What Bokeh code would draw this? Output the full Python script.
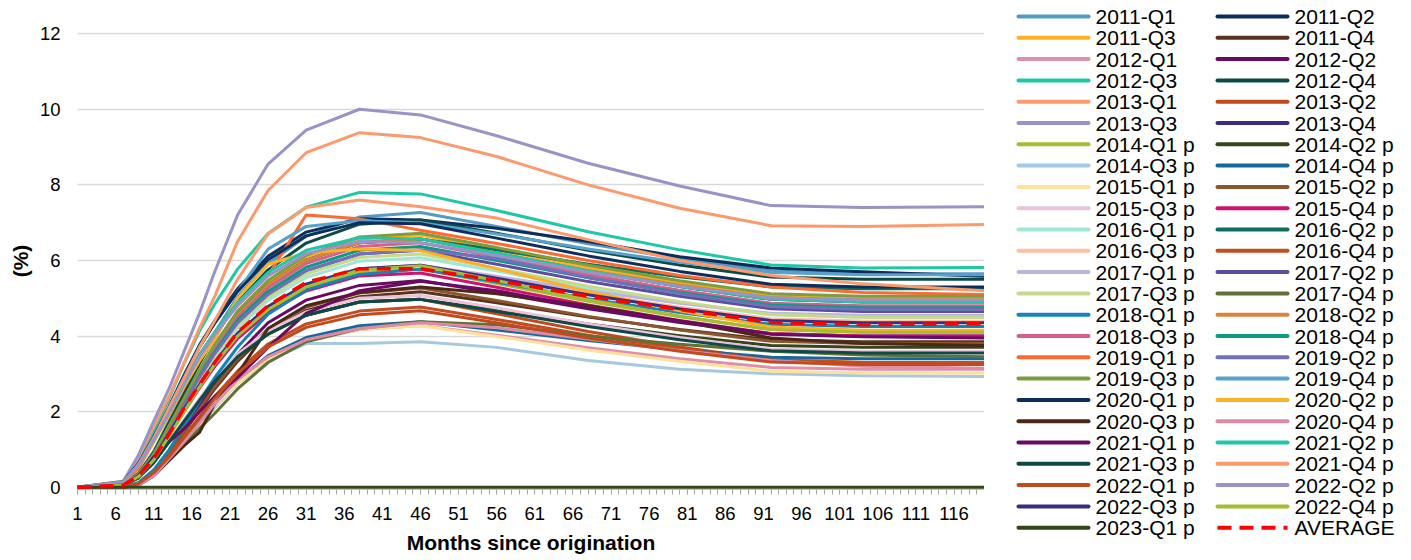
from bokeh.plotting import figure
from bokeh.models import FixedTicker, Range1d
from bokeh.layouts import row
from bokeh.core.properties import value
from bokeh.embed import file_html
from bokeh.resources import INLINE

months = [1, 7, 9, 11, 13, 15, 17, 19, 22, 26, 31, 38, 46, 56, 68, 80, 92, 104, 120]

labels = ["2011-Q1", "2011-Q2", "2011-Q3", "2011-Q4", "2012-Q1", "2012-Q2", "2012-Q3", "2012-Q4",
          "2013-Q1", "2013-Q2", "2013-Q3", "2013-Q4", "2014-Q1 p", "2014-Q2 p", "2014-Q3 p", "2014-Q4 p",
          "2015-Q1 p", "2015-Q2 p", "2015-Q3 p", "2015-Q4 p", "2016-Q1 p", "2016-Q2 p", "2016-Q3 p", "2016-Q4 p",
          "2017-Q1 p", "2017-Q2 p", "2017-Q3 p", "2017-Q4 p", "2018-Q1 p", "2018-Q2 p", "2018-Q3 p", "2018-Q4 p",
          "2019-Q1 p", "2019-Q2 p", "2019-Q3 p", "2019-Q4 p", "2020-Q1 p", "2020-Q2 p", "2020-Q3 p", "2020-Q4 p",
          "2021-Q1 p", "2021-Q2 p", "2021-Q3 p", "2021-Q4 p", "2022-Q1 p", "2022-Q2 p", "2022-Q3 p", "2022-Q4 p",
          "2023-Q1 p"]
avg_label = "AVERAGE"

colors = ["#5599c5", "#0b2e5c", "#fdb022", "#5a321e", "#df8fab", "#6b0a63", "#1fc8a5", "#0d4a45",
          "#fd9a6c", "#c24a1c", "#9893c8", "#3c2b85", "#a5bd33", "#33451a", "#a6c8e0", "#14689c",
          "#fde09a", "#8c552e", "#ecc1dc", "#d1136f", "#a0e6d6", "#0f6e5f", "#fdc0a4", "#bf4f22",
          "#bab6de", "#5a4ea1", "#c7d98b", "#5f7134", "#1483b6", "#d98438", "#d6608a", "#0c9a82",
          "#fd6b33", "#7170b8", "#7f9d3f", "#57a1cc", "#0b2e5c", "#fdb022", "#4a2816", "#dc8aa6",
          "#6b0a63", "#1fc8a5", "#0d4a45", "#fd9a6c", "#c24a1c", "#9893c8", "#3c2b85", "#a5bd33",
          "#33451a"]
avg_color = "#ff0000"

s2011Q1 = [0, 0.07, 0.37, 0.95, 1.75, 2.56, 3.36, 4.09, 5.04, 5.91, 6.64, 7.15, 7.27, 6.90, 6.44, 6.05, 5.72, 5.65, 5.65]
s2011Q2 = [0, 0.14, 0.64, 1.35, 2.13, 2.98, 3.76, 4.40, 5.25, 6.11, 6.75, 7.10, 7.07, 6.85, 6.50, 6.10, 5.80, 5.70, 5.58]
s2011Q3 = [0, 0.07, 0.34, 0.87, 1.61, 2.35, 3.08, 3.75, 4.62, 5.43, 6.10, 6.57, 6.67, 6.29, 5.82, 5.41, 5.07, 5.00, 5.00]
s2011Q4 = [0, 0, 0.10, 0.42, 0.88, 1.46, 2.03, 2.60, 3.33, 4.11, 4.68, 5.04, 5.17, 4.88, 4.50, 4.17, 3.90, 3.85, 3.85]
s2012Q1 = [0, 0, 0.09, 0.34, 0.73, 1.20, 1.68, 2.15, 2.75, 3.40, 3.87, 4.17, 4.28, 4.02, 3.69, 3.40, 3.17, 3.12, 3.12]
s2012Q2 = [0, 0, 0.11, 0.44, 0.94, 1.54, 2.15, 2.75, 3.52, 4.35, 4.95, 5.34, 5.47, 5.14, 4.72, 4.36, 4.06, 4.00, 4.00]
s2012Q3 = [0, 0.16, 0.70, 1.48, 2.34, 3.28, 4.13, 4.84, 5.77, 6.71, 7.41, 7.80, 7.76, 7.32, 6.76, 6.28, 5.88, 5.80, 5.81]
s2012Q4 = [0, 0.07, 0.36, 0.92, 1.70, 2.49, 3.27, 3.98, 4.90, 5.75, 6.46, 6.96, 7.07, 6.72, 6.27, 5.88, 5.56, 5.50, 5.50]
s2013Q1 = [0, 0.15, 0.80, 1.60, 2.40, 3.30, 4.20, 5.05, 6.50, 7.85, 8.85, 9.38, 9.25, 8.75, 8.00, 7.38, 6.92, 6.90, 6.95]
s2013Q2 = [0, 0.05, 0.25, 0.65, 1.20, 1.75, 2.30, 2.80, 3.45, 4.05, 4.55, 4.90, 4.97, 4.59, 4.12, 3.71, 3.37, 3.30, 3.30]
s2013Q3 = [0, 0.15, 0.85, 1.75, 2.60, 3.60, 4.60, 5.70, 7.20, 8.55, 9.45, 10.00, 9.85, 9.30, 8.57, 7.97, 7.45, 7.40, 7.42]
s2013Q4 = [0, 0.07, 0.33, 0.86, 1.58, 2.31, 3.04, 3.70, 4.55, 5.35, 6.01, 6.47, 6.57, 6.19, 5.72, 5.31, 4.97, 4.90, 4.90]
s2014Q1 = [0, 0.06, 0.29, 0.75, 1.39, 2.03, 2.67, 3.25, 4.00, 4.70, 5.28, 5.68, 5.77, 5.39, 4.92, 4.51, 4.17, 4.10, 4.10]
s2014Q2 = [0, 0.05, 0.25, 0.65, 1.20, 1.75, 2.30, 2.80, 3.45, 4.05, 4.55, 4.90, 4.97, 4.69, 4.32, 4.01, 3.75, 3.70, 3.70]
s2014Q3 = [0, 0, 0.08, 0.35, 0.75, 1.20, 1.65, 2.10, 2.75, 3.35, 3.80, 3.80, 3.85, 3.70, 3.35, 3.12, 3.00, 2.95, 2.93]
s2014Q4 = [0, 0, 0.09, 0.35, 0.75, 1.23, 1.72, 2.20, 2.82, 3.48, 3.96, 4.27, 4.38, 4.16, 3.88, 3.64, 3.44, 3.40, 3.40]
s2015Q1 = [0, 0, 0.09, 0.34, 0.73, 1.20, 1.68, 2.15, 2.75, 3.40, 3.87, 4.17, 4.27, 3.99, 3.63, 3.33, 3.07, 3.02, 3.02]
s2015Q2 = [0, 0, 0.11, 0.42, 0.90, 1.48, 2.07, 2.65, 3.39, 4.19, 4.77, 5.14, 5.27, 4.94, 4.52, 4.16, 3.86, 3.80, 3.80]
s2015Q3 = [0, 0.05, 0.26, 0.66, 1.22, 1.79, 2.35, 2.86, 3.52, 4.13, 4.64, 5.00, 5.07, 4.74, 4.32, 3.96, 3.66, 3.60, 3.60]
s2015Q4 = [0, 0.06, 0.29, 0.74, 1.37, 2.00, 2.62, 3.19, 3.93, 4.62, 5.19, 5.59, 5.67, 5.29, 4.82, 4.41, 4.07, 4.00, 4.00]
s2016Q1 = [0, 0.06, 0.31, 0.79, 1.46, 2.14, 2.81, 3.42, 4.21, 4.94, 5.55, 5.98, 6.07, 5.72, 5.27, 4.88, 4.56, 4.50, 4.50]
s2016Q2 = [0, 0.07, 0.33, 0.86, 1.58, 2.31, 3.04, 3.70, 4.55, 5.35, 6.01, 6.47, 6.57, 6.28, 5.90, 5.57, 5.30, 5.25, 5.25]
s2016Q3 = [0, 0.06, 0.30, 0.77, 1.42, 2.07, 2.71, 3.30, 4.07, 4.78, 5.37, 5.78, 5.87, 5.54, 5.12, 4.76, 4.46, 4.40, 4.40]
s2016Q4 = [0, 0, 0.10, 0.38, 0.82, 1.34, 1.87, 2.40, 3.07, 3.79, 4.32, 4.66, 4.77, 4.44, 4.02, 3.66, 3.36, 3.30, 3.30]
s2017Q1 = [0, 0.06, 0.30, 0.77, 1.42, 2.07, 2.71, 3.30, 4.07, 4.78, 5.37, 5.78, 5.87, 5.58, 5.20, 4.87, 4.60, 4.55, 4.55]
s2017Q2 = [0, 0.06, 0.32, 0.82, 1.51, 2.21, 2.90, 3.53, 4.35, 5.10, 5.73, 6.17, 6.27, 5.90, 5.44, 5.05, 4.72, 4.65, 4.65]
s2017Q3 = [0, 0.06, 0.31, 0.81, 1.49, 2.17, 2.85, 3.47, 4.28, 5.02, 5.64, 6.08, 6.17, 5.79, 5.32, 4.91, 4.57, 4.50, 4.50]
s2017Q4 = [0, 0, 0.10, 0.35, 0.75, 1.15, 1.55, 1.95, 2.60, 3.30, 3.85, 4.20, 4.38, 4.30, 4.00, 3.78, 3.60, 3.50, 3.45]
s2018Q1 = [0, 0, 0.12, 0.46, 0.99, 1.62, 2.26, 2.90, 3.71, 4.58, 5.22, 5.63, 5.77, 5.43, 4.99, 4.62, 4.31, 4.25, 4.25]
s2018Q2 = [0, 0.07, 0.33, 0.86, 1.58, 2.31, 3.04, 3.70, 4.55, 5.35, 6.01, 6.47, 6.57, 6.20, 5.74, 5.35, 5.02, 4.95, 4.95]
s2018Q3 = [0, 0.07, 0.33, 0.85, 1.56, 2.28, 2.99, 3.64, 4.49, 5.27, 5.92, 6.37, 6.47, 6.09, 5.62, 5.21, 4.87, 4.80, 4.80]
s2018Q4 = [0, 0.06, 0.32, 0.83, 1.54, 2.24, 2.94, 3.58, 4.42, 5.18, 5.82, 6.27, 6.37, 6.00, 5.54, 5.15, 4.82, 4.75, 4.75]
s2019Q1 = [0, 0.10, 0.50, 1.20, 2.00, 2.80, 3.50, 4.10, 4.80, 5.60, 7.20, 7.10, 6.80, 6.45, 6.00, 5.60, 5.30, 5.15, 5.10]
s2019Q2 = [0, 0.06, 0.32, 0.82, 1.51, 2.21, 2.90, 3.53, 4.35, 5.10, 5.73, 6.17, 6.28, 6.05, 5.55, 5.12, 4.78, 4.70, 4.70]
s2019Q3 = [0, 0.07, 0.34, 0.88, 1.62, 2.36, 3.11, 3.78, 4.66, 5.47, 6.14, 6.62, 6.72, 6.34, 5.87, 5.46, 5.12, 5.05, 5.05]
s2019Q4 = [0, 0.14, 0.63, 1.33, 2.10, 2.94, 3.71, 4.34, 5.18, 6.30, 6.90, 7.05, 7.00, 6.70, 6.30, 5.95, 5.68, 5.62, 5.62]
s2020Q1 = [0, 0.14, 0.63, 1.33, 2.10, 2.94, 3.71, 4.34, 5.18, 6.02, 6.65, 7.00, 6.97, 6.59, 6.12, 5.71, 5.37, 5.30, 5.30]
s2020Q2 = [0, 0.13, 0.57, 1.20, 1.89, 2.65, 3.34, 3.91, 5.00, 5.90, 6.20, 6.30, 6.26, 5.78, 5.18, 4.67, 4.24, 4.15, 4.15]
s2020Q3 = [0, 0, 0.05, 0.30, 0.70, 1.10, 1.45, 2.20, 3.00, 4.20, 4.80, 5.15, 5.30, 5.12, 4.80, 4.40, 3.95, 3.80, 3.75]
s2020Q4 = [0, 0, 0.05, 0.30, 0.75, 1.20, 1.70, 2.20, 2.85, 3.45, 3.90, 4.20, 4.35, 4.22, 3.92, 3.62, 3.35, 3.20, 3.15]
s2021Q1 = [0, 0.05, 0.30, 0.80, 1.20, 1.55, 2.00, 2.40, 2.90, 3.70, 4.60, 5.20, 5.45, 5.20, 4.75, 4.40, 4.05, 3.98, 3.95]
s2021Q2 = [0, 0.13, 0.59, 1.25, 1.98, 2.77, 3.50, 4.09, 4.88, 5.68, 6.27, 6.60, 6.57, 6.19, 5.72, 5.31, 4.97, 4.90, 4.90]
s2021Q3 = [0, 0.05, 0.25, 0.65, 1.20, 1.75, 2.30, 2.80, 3.45, 4.05, 4.55, 4.90, 4.97, 4.65, 4.25, 3.90, 3.61, 3.55, 3.55]
s2021Q4 = [0, 0.12, 0.60, 1.30, 2.10, 2.90, 3.70, 4.40, 5.50, 6.70, 7.40, 7.60, 7.42, 7.12, 6.55, 6.00, 5.60, 5.38, 5.20]
s2022Q1 = [0, 0, 0.09, 0.38, 0.80, 1.32, 1.83, 2.35, 3.01, 3.71, 4.23, 4.56, 4.67, 4.35, 3.95, 3.60, 3.31, 3.25, 3.25]
s2022Q2 = [0, 0.13, 0.59, 1.24, 1.95, 2.73, 3.45, 4.03, 4.81, 5.59, 6.18, 6.50, 6.47, 6.13, 5.69, 5.32, 5.01, 4.95, 4.95]
s2022Q3 = [0, 0.06, 0.30, 0.77, 1.42, 2.07, 2.71, 3.30, 4.07, 4.78, 5.37, 5.78, 5.87, 5.53, 5.09, 4.72, 4.41, 4.35, 4.35]
s2022Q4 = [0, 0.05, 0.28, 0.72, 1.35, 2.00, 2.65, 3.25, 4.00, 4.70, 5.30, 5.75, 5.86, 5.47, 4.96, 4.53, 4.17, 4.10, 4.10]
s2023Q1 = [0, 0, 0, 0, 0, 0, 0, 0, 0, 0, 0, 0, 0, 0, 0, 0, 0, 0, 0]
average = [0, 0.05, 0.30, 0.75, 1.40, 2.10, 2.72, 3.30, 4.10, 4.80, 5.42, 5.78, 5.78, 5.47, 5.05, 4.70, 4.36, 4.30, 4.33]

series = [s2011Q1, s2011Q2, s2011Q3, s2011Q4, s2012Q1, s2012Q2, s2012Q3, s2012Q4,
          s2013Q1, s2013Q2, s2013Q3, s2013Q4, s2014Q1, s2014Q2, s2014Q3, s2014Q4,
          s2015Q1, s2015Q2, s2015Q3, s2015Q4, s2016Q1, s2016Q2, s2016Q3, s2016Q4,
          s2017Q1, s2017Q2, s2017Q3, s2017Q4, s2018Q1, s2018Q2, s2018Q3, s2018Q4,
          s2019Q1, s2019Q2, s2019Q3, s2019Q4, s2020Q1, s2020Q2, s2020Q3, s2020Q4,
          s2021Q1, s2021Q2, s2021Q3, s2021Q4, s2022Q1, s2022Q2, s2022Q3, s2022Q4,
          s2023Q1]

x_ticks = [1, 6, 11, 16, 21, 26, 31, 36, 41, 46, 51, 56, 61, 66, 71, 76, 81, 86, 91, 96, 101, 106, 111, 116]
x_minor = list(range(1, 121))
y_ticks = [0, 2, 4, 6, 8, 10, 12]

FONT = "Liberation Sans"
AVG_DASH = "14 8"
FIG_H = 559

# ---------------- main chart ----------------
p = figure(frame_width=907, frame_height=457,
           min_border_left=77, min_border_top=32, min_border_bottom=FIG_H - 32 - 457, min_border_right=0,
           x_range=Range1d(1, 120), y_range=Range1d(-0.06, 12.03),
           output_backend="svg", toolbar_location=None)
p.outline_line_color = None
p.background_fill_color = "white"
p.border_fill_color = "white"

for col, vals in zip(colors, series):
    p.line(months, vals, line_color=col, line_width=3, line_join="round", line_cap="round")
p.line(months, average, line_color=avg_color, line_width=3.5, line_dash=AVG_DASH)

p.xaxis.ticker = FixedTicker(ticks=x_ticks, minor_ticks=x_minor)
p.xaxis.axis_line_color = "#bfbfbf"
p.xaxis.major_tick_line_color = "#a6a6a6"
p.xaxis.minor_tick_line_color = "#a6a6a6"
p.xaxis.major_tick_in = 0
p.xaxis.major_tick_out = 5
p.xaxis.minor_tick_in = 0
p.xaxis.minor_tick_out = 5
p.xaxis.major_label_standoff = 12
p.xaxis.axis_label = "Months since origination"
p.xaxis.axis_label_standoff = 8

p.yaxis.ticker = FixedTicker(ticks=y_ticks)
p.yaxis.axis_line_color = None
p.yaxis.major_tick_line_color = None
p.yaxis.minor_tick_line_color = None
p.yaxis.major_tick_in = 0
p.yaxis.major_tick_out = 0
p.yaxis.minor_tick_in = 0
p.yaxis.minor_tick_out = 0
p.yaxis.major_label_standoff = 17
p.yaxis.axis_label = "(%)"
p.yaxis.axis_label_standoff = 5

for ax in (p.xaxis, p.yaxis):
    ax.major_label_text_font = FONT
    ax.major_label_text_font_size = "18.5px"
    ax.major_label_text_color = "#000000"
    ax.axis_label_text_font = FONT
    ax.axis_label_text_font_size = "21px"
    ax.axis_label_text_font_style = "bold"
    ax.axis_label_text_color = "#000000"

p.xgrid.grid_line_color = None
p.ygrid.ticker = FixedTicker(ticks=y_ticks)
p.ygrid.grid_line_color = "#d9d9d9"
p.ygrid.grid_line_width = 1.3

# ---------------- legend panel (two entries per row) ----------------
LEG_W = 427
ROW0, ROW_STEP = 16, 21.3
COL0, COL_STEP = 34, 199
GLYPH_W, STANDOFF = 70, 7

leg = figure(frame_width=LEG_W, frame_height=FIG_H, x_range=Range1d(0, LEG_W), y_range=Range1d(FIG_H, 0),
             x_axis_type=None, y_axis_type=None, min_border=0,
             output_backend="svg", toolbar_location=None)
if "frame_align" in leg.properties():
    leg.frame_align = False
    p.frame_align = False
leg.outline_line_color = None
leg.grid.visible = False
leg.background_fill_color = "white"
leg.border_fill_color = "white"

n = len(labels)
rows_i = [i // 2 for i in range(n)]
cols_i = [i % 2 for i in range(n)]
gy = [ROW0 + ROW_STEP * r for r in rows_i]
gx0 = [COL0 + COL_STEP * c for c in cols_i]
gx1 = [x + GLYPH_W for x in gx0]
tx = [x + GLYPH_W + STANDOFF for x in gx0]
leg.segment(x0=gx0, y0=gy, x1=gx1, y1=gy, line_color=colors, line_width=4, line_cap="round")
leg.text(x=tx, y=gy, text=labels, text_font=value(FONT), text_font_size="21px",
         text_color="#000000", text_baseline="middle", text_align="left")

ar, ac = n // 2, n % 2
ay = ROW0 + ROW_STEP * ar
ax0 = COL0 + COL_STEP * ac
leg.segment(x0=[ax0], y0=[ay], x1=[ax0 + GLYPH_W], y1=[ay], line_color=avg_color, line_width=4,
            line_dash=AVG_DASH)
leg.text(x=[ax0 + GLYPH_W + STANDOFF], y=[ay], text=[avg_label], text_font=value(FONT), text_font_size="21px",
         text_color="#000000", text_baseline="middle", text_align="left")

layout = row(p, leg)
open("out.html", "w").write(file_html(layout, INLINE))
